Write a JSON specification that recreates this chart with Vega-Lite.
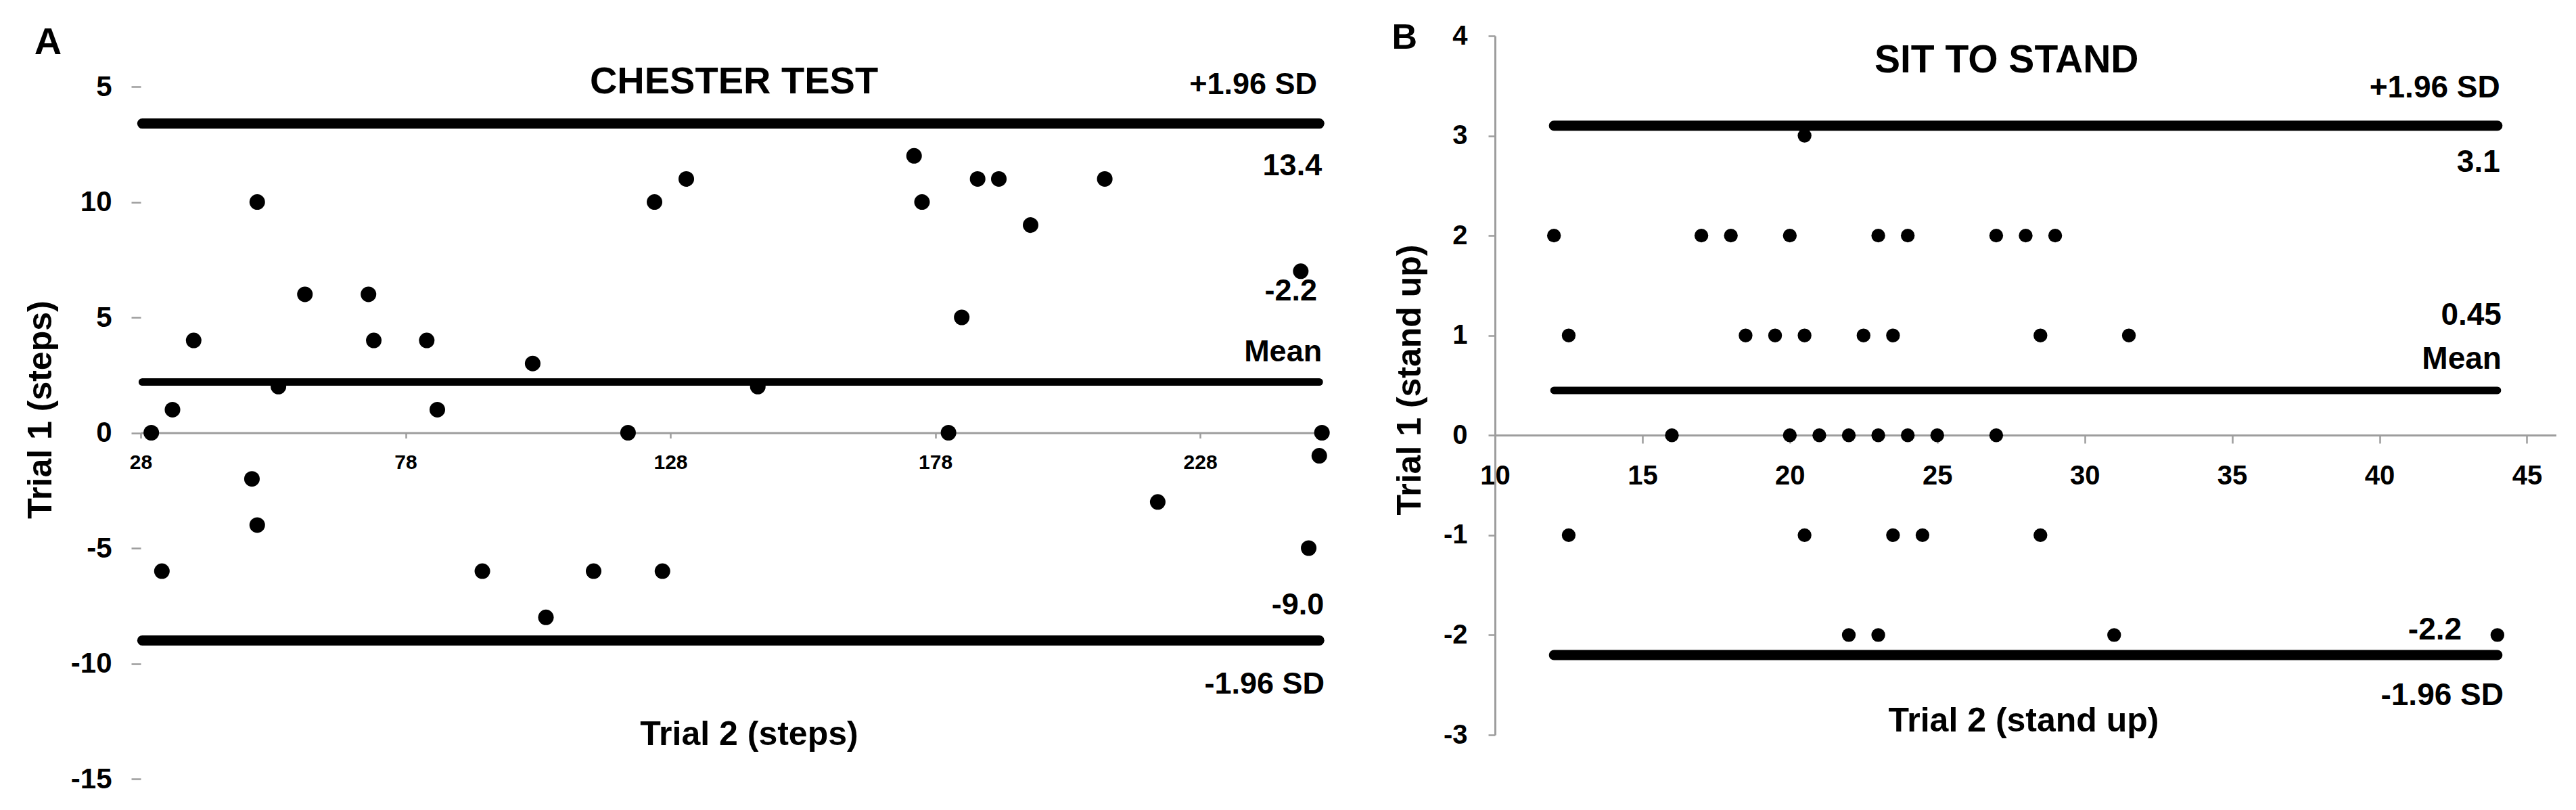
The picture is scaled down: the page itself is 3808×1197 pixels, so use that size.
{
  "$schema": "https://vega.github.io/schema/vega-lite/v6.json",
  "padding": {"left": 35, "top": 29, "right": 0, "bottom": 0},
  "background": "white",
  "bounds": "flush",
  "spacing": 248,
  "config": {
    "view": {"stroke": null},
    "font": "Liberation Sans",
    "axis": {
      "grid": false,
      "domainColor": "#9d9d9d",
      "tickColor": "#9d9d9d",
      "domainWidth": 3,
      "tickWidth": 2.5,
      "labelColor": "black",
      "labelFont": "Liberation Sans",
      "labelFontWeight": "bold",
      "titleFont": "Liberation Sans",
      "titleFontWeight": "bold",
      "titleColor": "black",
      "labelFlush": false,
      "labelOverlap": false
    },
    "text": {"font": "Liberation Sans", "fontWeight": "bold", "color": "black"}
  },
  "datasets": {
    "chester": [
      {"x": 30, "y": 0}, {"x": 34, "y": 1}, {"x": 32, "y": -6}, {"x": 38, "y": 4},
      {"x": 49, "y": -2}, {"x": 50, "y": -4}, {"x": 50, "y": 10}, {"x": 54, "y": 2},
      {"x": 59, "y": 6}, {"x": 71, "y": 6}, {"x": 72, "y": 4}, {"x": 82, "y": 4},
      {"x": 84, "y": 1}, {"x": 92.5, "y": -6}, {"x": 102, "y": 3}, {"x": 104.5, "y": -8},
      {"x": 113.5, "y": -6}, {"x": 120, "y": 0}, {"x": 125, "y": 10}, {"x": 126.5, "y": -6},
      {"x": 131, "y": 11}, {"x": 144.5, "y": 2}, {"x": 174, "y": 12}, {"x": 175.5, "y": 10},
      {"x": 180.5, "y": 0}, {"x": 183, "y": 5}, {"x": 186, "y": 11}, {"x": 190, "y": 11},
      {"x": 196, "y": 9}, {"x": 210, "y": 11}, {"x": 220, "y": -3}, {"x": 247, "y": 7},
      {"x": 248.5, "y": -5}, {"x": 250.5, "y": -1}, {"x": 251, "y": 0}
    ],
    "chesterLines": [
      {"kind": "limit", "y": 13.4, "x": 28.3, "x2": 250.5},
      {"kind": "mean", "y": 2.2, "x": 28.3, "x2": 250.5},
      {"kind": "limit", "y": -9.0, "x": 28.3, "x2": 250.5}
    ],
    "chesterNotes": [
      {"label": "+1.96 SD", "x": 250.1, "y": 15.1},
      {"label": "13.4", "x": 251, "y": 11.57},
      {"label": "-2.2", "x": 250.1, "y": 6.13},
      {"label": "Mean", "x": 251, "y": 3.5},
      {"label": "-9.0", "x": 251.4, "y": -7.45},
      {"label": "-1.96 SD", "x": 251.5, "y": -10.88}
    ],
    "sts": [
      {"x": 20.5, "y": 3},
      {"x": 12, "y": 2}, {"x": 17, "y": 2}, {"x": 18, "y": 2}, {"x": 20, "y": 2}, {"x": 23, "y": 2},
      {"x": 24, "y": 2}, {"x": 27, "y": 2}, {"x": 28, "y": 2}, {"x": 29, "y": 2},
      {"x": 12.5, "y": 1}, {"x": 18.5, "y": 1}, {"x": 19.5, "y": 1}, {"x": 20.5, "y": 1},
      {"x": 22.5, "y": 1}, {"x": 23.5, "y": 1}, {"x": 28.5, "y": 1}, {"x": 31.5, "y": 1},
      {"x": 16, "y": 0}, {"x": 20, "y": 0}, {"x": 21, "y": 0}, {"x": 22, "y": 0},
      {"x": 23, "y": 0}, {"x": 24, "y": 0}, {"x": 25, "y": 0}, {"x": 27, "y": 0},
      {"x": 12.5, "y": -1}, {"x": 20.5, "y": -1}, {"x": 23.5, "y": -1}, {"x": 24.5, "y": -1}, {"x": 28.5, "y": -1},
      {"x": 22, "y": -2}, {"x": 23, "y": -2}, {"x": 31, "y": -2}, {"x": 44, "y": -2}
    ],
    "stsLines": [
      {"kind": "limit", "y": 3.1, "x": 12, "x2": 44},
      {"kind": "mean", "y": 0.45, "x": 12, "x2": 44},
      {"kind": "limit", "y": -2.2, "x": 12, "x2": 44}
    ],
    "stsNotes": [
      {"label": "+1.96 SD", "x": 44.09, "y": 3.48},
      {"label": "3.1", "x": 44.09, "y": 2.73},
      {"label": "0.45", "x": 44.14, "y": 1.2},
      {"label": "Mean", "x": 44.14, "y": 0.76},
      {"label": "-2.2", "x": 42.79, "y": -1.95},
      {"label": "-1.96 SD", "x": 44.21, "y": -2.61}
    ],
    "stsStubs": [
      {"x": 8.55}, {"x": 12.5}, {"x": 16.45}, {"x": 20.4}, {"x": 24.4},
      {"x": 28.35}, {"x": 32.3}, {"x": 36.3}, {"x": 40.25}, {"x": 44.2}
    ]
  },
  "hconcat": [
    {
      "width": 1754,
      "height": 1098,
      "encoding": {
        "x": {
          "field": "x", "type": "quantitative",
          "scale": {"domain": [28, 252], "nice": false, "zero": false},
          "axis": {
            "values": [28, 78, 128, 178, 228],
            "offset": -511.5,
            "tickSize": 8,
            "labelPadding": 21,
            "labelFontSize": 30,
            "title": "Trial 2 (steps)",
            "titleFontSize": 50,
            "titleX": 899,
            "titleY": 445.5,
            "titleAlign": "center",
            "titleBaseline": "middle"
          }
        },
        "y": {
          "field": "y", "type": "quantitative",
          "scale": {"domain": [-15, 17.2], "nice": false, "zero": false},
          "axis": {
            "values": [-15, -10, -5, 0, 5, 10, 15],
            "domain": false,
            "tickSize": 14,
            "labelPadding": 29,
            "labelFontSize": 42,
            "labelExpr": "datum.value == 15 ? '5' : toString(datum.value)",
            "title": "Trial 1 (steps)",
            "titleFontSize": 50,
            "titleX": -148,
            "titleY": 552,
            "titleAngle": -90,
            "titleAlign": "center",
            "titleBaseline": "middle"
          }
        }
      },
      "layer": [
        {
          "data": {"values": [{}]},
          "mark": {"type": "rule", "color": "#9d9d9d", "strokeWidth": 3},
          "encoding": {"x": {"datum": 28}, "y": {"datum": -15}, "y2": {"datum": 15}}
        },
        {
          "data": {"name": "chesterLines"},
          "mark": {"type": "rule", "color": "black", "strokeCap": "round"},
          "encoding": {
            "x2": {"field": "x2"},
            "strokeWidth": {"field": "kind", "type": "nominal", "scale": {"domain": ["limit", "mean"], "range": [15, 11]}, "legend": null}
          }
        },
        {
          "data": {"name": "chester"},
          "mark": {"type": "circle", "size": 530, "color": "black", "opacity": 1}
        },
        {
          "data": {"name": "chesterNotes"},
          "mark": {"type": "text", "align": "right", "baseline": "middle", "fontSize": 45},
          "encoding": {"text": {"field": "label"}}
        },
        {
          "data": {"values": [{"label": "CHESTER TEST", "x": 140, "y": 15.2}]},
          "mark": {"type": "text", "align": "center", "baseline": "middle", "fontSize": 56},
          "encoding": {"text": {"field": "label"}}
        },
        {
          "data": {"values": [{"label": "A", "x": 10.5, "y": 16.9}]},
          "mark": {"type": "text", "align": "center", "baseline": "middle", "fontSize": 56},
          "encoding": {"text": {"field": "label"}}
        }
      ]
    },
    {
      "width": 1569,
      "height": 1033,
      "encoding": {
        "x": {
          "field": "x", "type": "quantitative",
          "scale": {"domain": [10, 46], "nice": false, "zero": false},
          "axis": {
            "values": [10, 15, 20, 25, 30, 35, 40, 45],
            "offset": -443,
            "tickSize": 12,
            "labelPadding": 28,
            "labelFontSize": 40,
            "title": "Trial 2 (stand up)",
            "titleFontSize": 50,
            "titleX": 781,
            "titleY": 422,
            "titleAlign": "center",
            "titleBaseline": "middle"
          }
        },
        "y": {
          "field": "y", "type": "quantitative",
          "scale": {"domain": [-3, 4], "nice": false, "zero": false},
          "axis": {
            "values": [-3, -2, -1, 0, 1, 2, 3, 4],
            "tickSize": 10,
            "labelPadding": 31,
            "labelFontSize": 40,
            "labelExpr": "toString(datum.value)",
            "title": "Trial 1 (stand up)",
            "titleFontSize": 50,
            "titleX": -126,
            "titleY": 508,
            "titleAngle": -90,
            "titleAlign": "center",
            "titleBaseline": "middle"
          }
        }
      },
      "layer": [
        {
          "data": {"name": "stsStubs"},
          "mark": {"type": "tick", "orient": "vertical", "size": 11, "thickness": 2, "color": "#cccccc"},
          "encoding": {"y": {"datum": -3.35}}
        },
        {
          "data": {"name": "stsLines"},
          "mark": {"type": "rule", "color": "black", "strokeCap": "round"},
          "encoding": {
            "x2": {"field": "x2"},
            "strokeWidth": {"field": "kind", "type": "nominal", "scale": {"domain": ["limit", "mean"], "range": [15, 11]}, "legend": null}
          }
        },
        {
          "data": {"name": "sts"},
          "mark": {"type": "circle", "size": 415, "color": "black", "opacity": 1}
        },
        {
          "data": {"name": "stsNotes"},
          "mark": {"type": "text", "align": "right", "baseline": "middle", "fontSize": 46},
          "encoding": {"text": {"field": "label"}}
        },
        {
          "data": {"values": [{"label": "SIT TO STAND", "x": 27.35, "y": 3.75}]},
          "mark": {"type": "text", "align": "center", "baseline": "middle", "fontSize": 57},
          "encoding": {"text": {"field": "label"}}
        },
        {
          "data": {"values": [{"label": "B", "x": 6.93, "y": 3.98}]},
          "mark": {"type": "text", "align": "center", "baseline": "middle", "fontSize": 52},
          "encoding": {"text": {"field": "label"}}
        }
      ]
    }
  ]
}
